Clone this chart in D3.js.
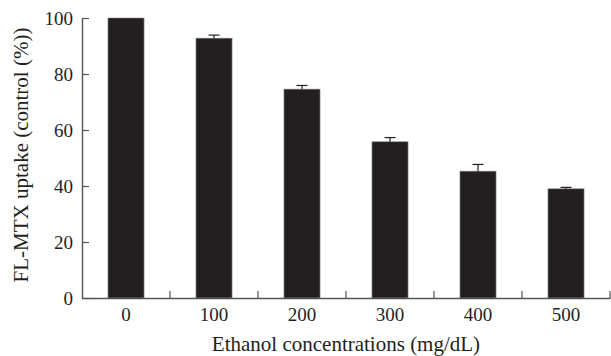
<!DOCTYPE html>
<html>
<head>
<meta charset="utf-8">
<script src="https://cdn.jsdelivr.net/npm/d3@7"></script>
<style>
  body { margin: 0; background: #fff; }
  svg { display: block; font-family: "Liberation Serif", "DejaVu Serif", serif; }
</style>
</head>
<body>
<div id="chart"></div>
<script>
const concentrations = ['0', '100', '200', '300', '400', '500'];
const uptake = [100, 92.8, 74.6, 55.8, 45.3, 39.0];
const errors = [0, 1.1, 1.3, 1.5, 2.4, 0.5];
const yTicks = [0, 20, 40, 60, 80, 100];

const W = 611, H = 356;
const margin = { top: 18, right: 1, bottom: 58, left: 82 };
const width = W - margin.left - margin.right;
const height = H - margin.top - margin.bottom;

const svg = d3.select('#chart').append('svg')
  .attr('width', W).attr('height', H);

const g = svg.append('g')
  .attr('transform', `translate(${margin.left},${margin.top})`);

const x = d3.scaleBand().domain(concentrations).range([0, width]).paddingInner(0.59).paddingOuter(0.295);
const y = d3.scaleLinear().domain([0, 100]).range([height, 0]);
const step = x.step();

// bars
g.selectAll('rect.bar')
  .data(uptake)
  .enter().append('rect')
  .attr('class', 'bar')
  .attr('x', (d, i) => x(concentrations[i]))
  .attr('y', d => y(d))
  .attr('width', x.bandwidth())
  .attr('height', d => height - y(d))
  .attr('fill', '#231f20')
  .attr('stroke', '#8a8a8a')
  .attr('stroke-width', 0.6);

// error bars
const eb = g.selectAll('g.err')
  .data(uptake.map((v, i) => ({ v, e: errors[i], c: concentrations[i] })).filter(d => d.e > 0))
  .enter().append('g').attr('class', 'err')
  .attr('stroke', '#231f20').attr('stroke-width', 1.2);
eb.append('line')
  .attr('x1', d => x(d.c) + x.bandwidth() / 2)
  .attr('x2', d => x(d.c) + x.bandwidth() / 2)
  .attr('y1', d => y(d.v))
  .attr('y2', d => y(d.v + d.e));
eb.append('line')
  .attr('x1', d => x(d.c) + x.bandwidth() / 2 - 5.5)
  .attr('x2', d => x(d.c) + x.bandwidth() / 2 + 5.5)
  .attr('y1', d => y(d.v + d.e))
  .attr('y2', d => y(d.v + d.e));

// y axis
const yAxis = g.append('g')
  .call(d3.axisLeft(y).tickValues(yTicks).tickSize(0).tickPadding(9));
yAxis.select('.domain').attr('stroke', '#555').attr('stroke-width', 1.4);
yAxis.selectAll('text').attr('font-size', 19).attr('fill', '#231f20')
  .attr('font-family', '"Liberation Serif", serif');
yAxis.selectAll('.tick').append('line')
  .attr('x1', 0).attr('x2', 7).attr('stroke', '#555').attr('stroke-width', 1.2);

// x axis
const xAxis = g.append('g')
  .attr('transform', `translate(0,${height})`)
  .call(d3.axisBottom(x).tickSize(0).tickPadding(10));
xAxis.select('.domain').attr('stroke', '#555').attr('stroke-width', 1.4);
xAxis.selectAll('text').attr('font-size', 19).attr('fill', '#231f20')
  .attr('font-family', '"Liberation Serif", serif');
// separator ticks between categories, pointing inward
xAxis.selectAll('.tick').append('line')
  .attr('x1', step / 2).attr('x2', step / 2)
  .attr('y1', 0).attr('y2', -7)
  .attr('stroke', '#555').attr('stroke-width', 1.2);

// axis titles
svg.append('text')
  .attr('transform', `translate(28,${margin.top + height / 2 - 3}) rotate(-90)`)
  .attr('text-anchor', 'middle')
  .attr('font-size', 21)
  .attr('fill', '#231f20')
  .text('FL-MTX uptake (control (%))');

svg.append('text')
  .attr('x', margin.left + width / 2)
  .attr('y', 351)
  .attr('text-anchor', 'middle')
  .attr('font-size', 21)
  .attr('fill', '#231f20')
  .text('Ethanol concentrations (mg/dL)');
</script>
</body>
</html>
